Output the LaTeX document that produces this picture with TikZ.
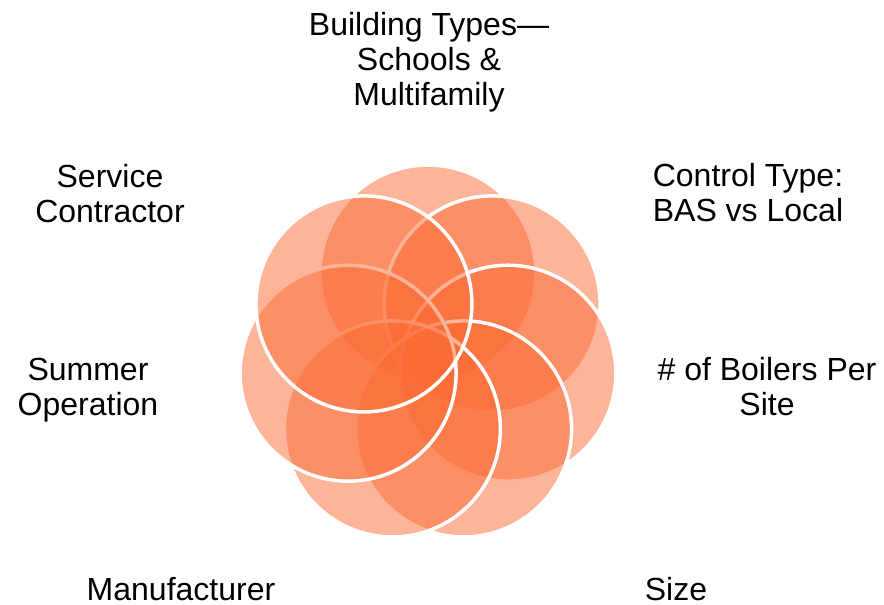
\documentclass[tikz,border=0pt]{standalone}
\usepackage{fontspec}
\setmainfont{Liberation Sans}
\definecolor{petal}{RGB}{251,106,51}
\begin{document}
\begin{tikzpicture}[x=1pt,y=-1pt,
  petalc/.style={circle, minimum size=216pt, inner sep=0pt, fill=petal, fill opacity=0.5, draw=white, draw opacity=1, line width=3.5pt},
  lbl/.style={align=center, font=\fontsize{32}{35}\selectfont, inner sep=0pt, text=black}]
\useasboundingbox (0,0) rectangle (884,605);
\node[petalc] (p0) at (428.0,273.0) {};
\node[petalc] (p1) at (492.1,303.9) {};
\node[petalc] (p2) at (507.9,373.2) {};
\node[petalc] (p3) at (463.6,428.9) {};
\node[petalc] (p4) at (392.4,428.9) {};
\node[petalc] (p5) at (348.1,373.2) {};
\node[petalc] (p6) at (363.9,303.9) {};
\node[lbl, anchor=base] (t0) at (429,105) {Building Types—\\Schools \&\\Multifamily};
\node[lbl, anchor=base] (t1) at (748,221) {Control Type:\\BAS vs Local};
\node[lbl, anchor=base] (t2) at (767,415) {\# of Boilers Per\\Site};
\node[lbl, anchor=base] (t3) at (676,600) {Size};
\node[lbl, anchor=base] (t4) at (181,600) {Manufacturer};
\node[lbl, anchor=base] (t5) at (88,415) {Summer\\Operation};
\node[lbl, anchor=base] (t6) at (110,222) {Service\\Contractor};
\end{tikzpicture}
\end{document}
